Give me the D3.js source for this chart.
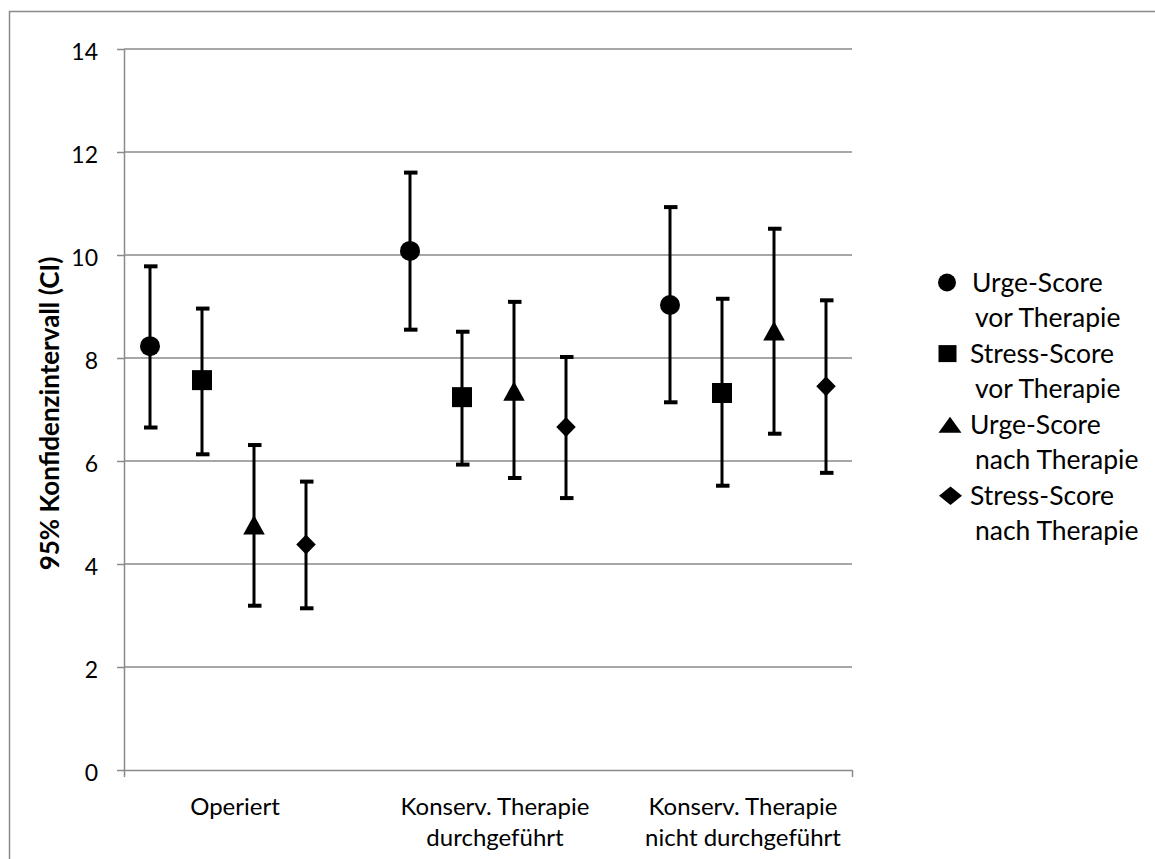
<!DOCTYPE html>
<html>
<head>
<meta charset="utf-8">
<script src="https://cdn.jsdelivr.net/npm/d3@7/dist/d3.min.js"></script>
<style>
  html, body { margin: 0; padding: 0; background: #fff; }
  svg { display: block; }
  text { font-family: Lato, "Open Sans", sans-serif; fill: #000; }
</style>
</head>
<body>
<svg id="chart" width="1155" height="859"></svg>
<script>
// ---- data ----
const categories = [
  ["Operiert"],
  ["Konserv. Therapie", "durchgeführt"],
  ["Konserv. Therapie", "nicht durchgeführt"]
];
const seriesNames = [
  ["Urge-Score", "vor Therapie"],
  ["Stress-Score", "vor Therapie"],
  ["Urge-Score", "nach Therapie"],
  ["Stress-Score", "nach Therapie"]
];
const seriesShapes = ["circle", "square", "triangle", "diamond"];

const urgeVor      = [8.23, 10.08, 9.03];
const urgeVorLo    = [6.65, 8.55, 7.14];
const urgeVorHi    = [9.78, 11.60, 10.93];

const stressVor    = [7.57, 7.24, 7.32];
const stressVorLo  = [6.13, 5.93, 5.52];
const stressVorHi  = [8.96, 8.51, 9.15];

const urgeNach     = [4.76, 7.36, 8.53];
const urgeNachLo   = [3.19, 5.67, 6.53];
const urgeNachHi   = [6.31, 9.09, 10.51];

const stressNach   = [4.38, 6.66, 7.45];
const stressNachLo = [3.14, 5.28, 5.77];
const stressNachHi = [5.60, 8.02, 9.12];

const yTicks = [0, 2, 4, 6, 8, 10, 12, 14];
const yLabel = "95% Konfidenzintervall (CI)";

// ---- assembled table ----
const means = [urgeVor, stressVor, urgeNach, stressNach];
const lows  = [urgeVorLo, stressVorLo, urgeNachLo, stressNachLo];
const highs = [urgeVorHi, stressVorHi, urgeNachHi, stressNachHi];

const points = [];
categories.forEach((c, gi) => {
  means.forEach((m, si) => {
    points.push({ group: gi, series: si, mean: m[gi], lo: lows[si][gi], hi: highs[si][gi] });
  });
});

// ---- layout ----
const svg = d3.select("#chart");
const plot = { left: 124, right: 852, top: 49, bottom: 770 };
const slotsPerGroup = seriesNames.length + 1;
const nSlots = categories.length * slotsPerGroup - 1;

const x = d3.scaleBand().domain(d3.range(nSlots)).range([plot.left, plot.right]).padding(0);
const slotX = (g, s) => x(g * slotsPerGroup + s) + x.bandwidth() / 2;
const y = d3.scaleLinear().domain([0, 14]).range([plot.bottom, plot.top]);

const grey = "#8a8a8a";

// outer frame (left and top visible)
svg.append("path")
  .attr("d", `M9.5,870 L9.5,11.5 L1170,11.5`)
  .attr("fill", "none").attr("stroke", grey).attr("stroke-width", 1.5);

// gridlines
svg.append("g").selectAll("line").data(yTicks.filter(t => t > 0)).join("line")
  .attr("x1", plot.left).attr("x2", plot.right)
  .attr("y1", d => y(d)).attr("y2", d => y(d))
  .attr("stroke", grey).attr("stroke-width", 1.5);

// y axis
const yAxis = svg.append("g").attr("transform", `translate(${plot.left},0)`)
  .call(d3.axisLeft(y).tickValues(yTicks).tickSize(7).tickSizeOuter(0).tickPadding(19));
yAxis.select(".domain").attr("stroke", grey).attr("stroke-width", 1.5);
yAxis.selectAll(".tick line").attr("stroke", grey).attr("stroke-width", 1.5);
yAxis.selectAll(".tick text")
  .attr("x", -26).attr("dy", null).attr("y", 10)
  .style("font-family", "Lato, sans-serif").style("font-size", "23px").attr("fill", "#000");

// x axis (line + end ticks)
const xEdge = d3.scaleLinear().domain([0, nSlots]).range([plot.left, plot.right]);
const xAxis = svg.append("g").attr("transform", `translate(0,${plot.bottom})`)
  .call(d3.axisBottom(xEdge).tickValues([0, nSlots]).tickSize(7).tickSizeOuter(0).tickFormat(""));
xAxis.select(".domain").attr("stroke", grey).attr("stroke-width", 1.5);
xAxis.selectAll(".tick line").attr("stroke", grey).attr("stroke-width", 1.5);

// category labels
const labelShift = [7, 7, -5];
const catG = svg.append("g");
categories.forEach((lines, gi) => {
  const cx = (slotX(gi, 0) + slotX(gi, seriesNames.length - 1)) / 2 + labelShift[gi];
  const t = catG.append("text").attr("text-anchor", "middle")
    .style("font-size", "24px");
  lines.forEach((ln, li) => {
    t.append("tspan").attr("x", cx).attr("y", 815 + li * 30.5).text(ln);
  });
});

// y label
svg.append("text")
  .attr("transform", `translate(49,${(plot.top + plot.bottom) / 2 + 4}) rotate(-90)`)
  .attr("text-anchor", "middle").attr("dominant-baseline", "central")
  .style("font-size", "26px").style("font-weight", "bold")
  .text(yLabel);

// marker shapes
function shapePath(type, w, h) {
  const hw = w / 2, hh = h / 2;
  switch (type) {
    case "circle":
      return `M${-hw},0 A${hw},${hh} 0 1,0 ${hw},0 A${hw},${hh} 0 1,0 ${-hw},0 Z`;
    case "square":
      return `M${-hw},${-hh} H${hw} V${hh} H${-hw} Z`;
    case "triangle":
      return `M0,${-hh} L${hw},${hh} L${-hw},${hh} Z`;
    case "diamond":
      return `M0,${-hh} L${hw},0 L0,${hh} L${-hw},0 Z`;
  }
}
const markerSize = {
  circle: [20, 20], square: [20, 20], triangle: [21.5, 19.5], diamond: [19.5, 20]
};

// error bars
const eb = svg.append("g");
eb.selectAll("line.stem").data(points).join("line").attr("class", "stem")
  .attr("x1", d => slotX(d.group, d.series)).attr("x2", d => slotX(d.group, d.series))
  .attr("y1", d => y(d.lo)).attr("y2", d => y(d.hi))
  .attr("stroke", "#000").attr("stroke-width", 3);
["lo", "hi"].forEach(k => {
  eb.selectAll("line.cap" + k).data(points).join("line").attr("class", "cap" + k)
    .attr("x1", d => slotX(d.group, d.series) - 6).attr("x2", d => slotX(d.group, d.series) + 7.5)
    .attr("y1", d => y(d[k])).attr("y2", d => y(d[k]))
    .attr("stroke", "#000").attr("stroke-width", 4);
});

// markers
svg.append("g").selectAll("path").data(points).join("path")
  .attr("transform", d => `translate(${slotX(d.group, d.series)},${y(d.mean)})`)
  .attr("d", d => { const t = seriesShapes[d.series]; return shapePath(t, ...markerSize[t]); })
  .attr("fill", "#000");

// legend
const legendMarkerSize = {
  circle: [18, 18], square: [18, 17], triangle: [23, 16], diamond: [23, 18.5]
};
const legendMarkerX = { circle: 947, square: 947.5, triangle: 950, diamond: 950.5 };
const leg = svg.append("g");
seriesNames.forEach((lines, si) => {
  const base = 291.5 + si * 71.1;
  const t = seriesShapes[si];
  leg.append("path")
    .attr("transform", `translate(${legendMarkerX[t]},${base - 9})`)
    .attr("d", shapePath(t, ...legendMarkerSize[t]))
    .attr("fill", "#000");
  const txt = leg.append("text").style("font-size", "26.5px");
  lines.forEach((ln, li) => {
    txt.append("tspan").attr("x", li === 0 ? (si === 0 ? 972 : 970) : 975)
      .attr("y", base + li * 35).text(ln);
  });
});
</script>
</body>
</html>
